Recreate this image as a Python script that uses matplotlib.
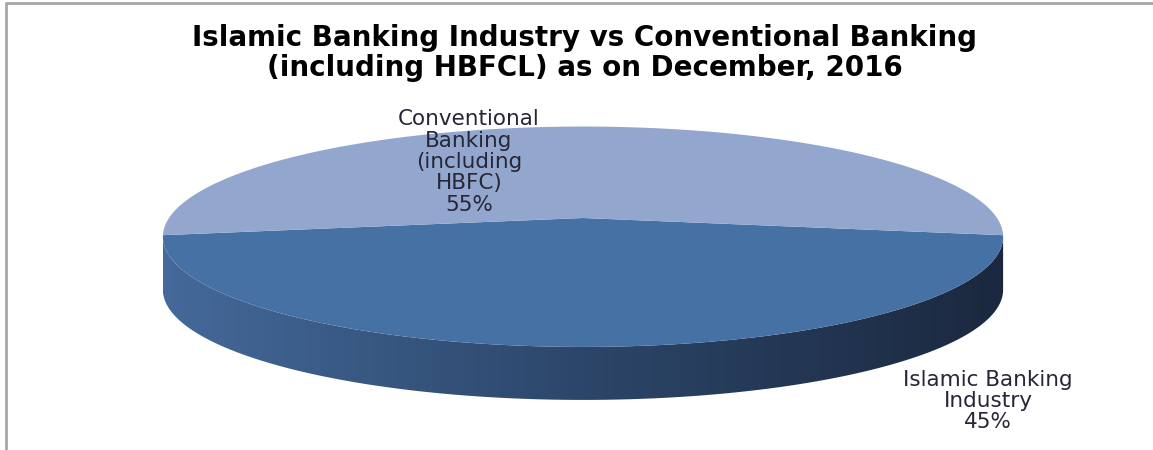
import numpy as np
import matplotlib
matplotlib.use('Agg')
import matplotlib.pyplot as plt
from matplotlib.patches import Polygon
from matplotlib.colors import LinearSegmentedColormap

# data
labels = ['Islamic Banking\nIndustry', 'Conventional\nBanking\n(including\nHBFC)']
shares = [45, 55]
top_colors = ['#4571a4', '#93a7ce']
title = 'Islamic Banking Industry vs Conventional Banking\n(including HBFCL) as on December, 2016'

W, H = 1153, 450
fig = plt.figure(figsize=(W / 100, H / 100), dpi=100)
ax = fig.add_axes([0, 0, 1, 1])
ax.set_xlim(0, W)
ax.set_ylim(H, 0)
ax.axis('off')

# perspective pie geometry (pixels)
cx, cy = 583, 218     # pie centre on screen
k = 0.17              # perspective strength
sx, sy = 414, 107
depth = 53

def project(t, drop=0.0):
    u, v = np.cos(t), np.sin(t)
    w = 1 + k * v
    return cx + sx * u / w, cy - sy * v / w + drop

fracs = np.array(shares, dtype=float) / sum(shares)
# conventional slice centred at the back (90 deg)
start = np.pi / 2 - np.pi * fracs[1]
bounds = {1: (start, start + 2 * np.pi * fracs[1])}
bounds[0] = (bounds[1][1], bounds[1][1] + 2 * np.pi * fracs[0])

# side wall of the front
ts = np.linspace(0, 2 * np.pi, 2000)
xs, ys = project(ts)
i_min, i_max = np.argmin(xs), np.argmax(xs)
tf = np.linspace(ts[i_min], ts[i_max] + 2 * np.pi if ts[i_max] < ts[i_min] else ts[i_max], 400)
fx, fy = project(tf)
bx, by = project(tf[::-1], depth)
side = Polygon(np.column_stack([np.r_[fx, bx], np.r_[fy, by]]), closed=True,
               facecolor='none', edgecolor='none')
ax.add_patch(side)
cmap = LinearSegmentedColormap.from_list('side', ['#44699a', '#2c4669', '#1b283f'])
grad = np.linspace(0, 1, 256)[None, :]
im = ax.imshow(grad, extent=[fx.min(), fx.max(), by.max() + 2, fy.min()], cmap=cmap,
               aspect='auto', zorder=1)
im.set_clip_path(side)

# top face slices
for i in range(len(shares)):
    a0, a1 = bounds[i]
    tt = np.linspace(a0, a1, 400)
    px, py = project(tt)
    px = np.r_[cx, px]
    py = np.r_[cy, py]
    ax.add_patch(Polygon(np.column_stack([px, py]), closed=True, facecolor=top_colors[i],
                         edgecolor='none', zorder=2))

ax.set_xlim(0, W)
ax.set_ylim(H, 0)

ax.text(W / 2 + 8, 53, title, ha='center', va='center', fontsize=20, fontweight='bold',
        family='DejaVu Sans', linespacing=1.05, color='black')

ax.text(469, 162, labels[1] + '\n' + str(shares[1]) + '%', ha='center', va='center',
        fontsize=15.5, family='DejaVu Sans', color='#262636', linespacing=1.08, zorder=3)
ax.text(988, 401, labels[0] + '\n' + str(shares[0]) + '%', ha='center', va='center',
        fontsize=15.5, family='DejaVu Sans', color='#262636', linespacing=1.08, zorder=3)

# chart border (top and left)
ax.plot([5, W], [3, 3], color='#a6a6a6', lw=2, solid_capstyle='butt')
ax.plot([6, 6], [3, H], color='#a6a6a6', lw=2, solid_capstyle='butt')

fig.savefig('out.png', dpi=100)
